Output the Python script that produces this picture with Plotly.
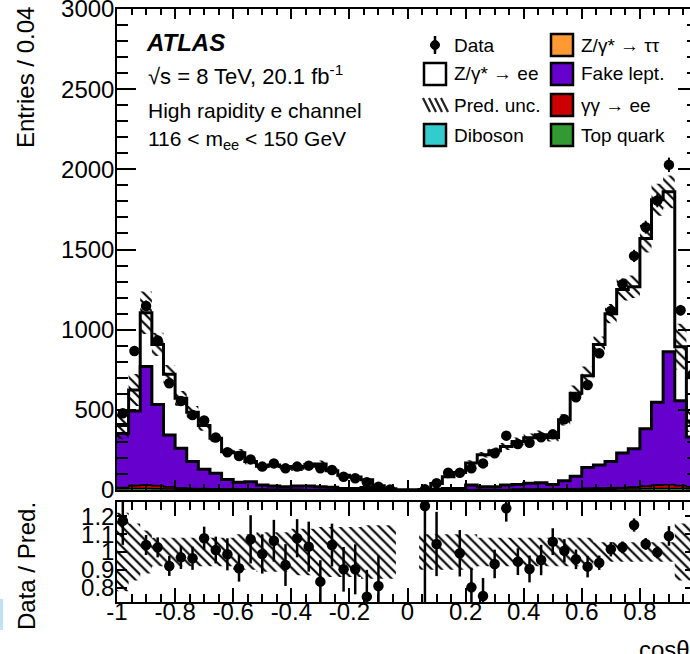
import numpy as np
import plotly.graph_objects as go

# ---------------- data ----------------
bin_edges = np.round(np.linspace(-1.0, 1.0, 51), 2)

data_counts = [479, 867, 1148, 932, 666, 555, 468, 433, 327, 235,
               212, 191, 146, 166, 135, 146, 152, 135, 125, 83,
               73, 48, 21, 3, 0, 0, 4, 42, 108, 108,
               135, 166, 229, 339, 287, 295, 329, 347, 441, 578,
               655, 853, 1117, 1284, 1460, 1639, 1806, 2028, 1121, 718]

top_quark = [8, 9, 9, 8, 6, 5, 4, 4, 3, 3,
             3, 2, 2, 2, 2, 2, 1, 1, 1, 1,
             1, 1, 0, 0, 0, 0, 0, 0, 0, 1,
             1, 1, 1, 1, 2, 2, 2, 2, 3, 3,
             4, 4, 5, 6, 7, 8, 9, 10, 9, 8]

gamgam_ee = [6, 18, 20, 18, 12, 6, 4, 3, 3, 2,
             2, 2, 2, 1, 1, 1, 1, 1, 1, 1,
             1, 0, 0, 0, 0, 0, 0, 0, 1, 1,
             1, 1, 1, 1, 2, 2, 2, 3, 3, 4,
             5, 6, 7, 8, 10, 14, 20, 22, 18, 10]

diboson = [1] * 22 + [0] * 6 + [1] * 22

z_tautau = [2] * 11 + [1] * 11 + [0] * 6 + [1] * 11 + [2] * 11

fake_lept = [335, 463, 738, 504, 322, 246, 166, 120, 95, 57,
             40, 46, 25, 20, 16, 20, 21, 17, 13, 5,
             6, 12, 4, 2, 0, 0, 2, 4, 7, 6,
             27, 17, 17, 27, 29, 36, 39, 28, 50, 75,
             128, 143, 162, 214, 237, 357, 516, 828, 527, 309]

z_ee = [56, 131, 335, 375, 379, 312, 308, 272, 219, 173,
        185, 126, 117, 131, 125, 111, 123, 141, 103, 83,
        71, 49, 22, 6, 0, 0, 1, 36, 72, 99,
        137, 199, 224, 241, 268, 284, 299, 293, 380, 518,
        573, 751, 923, 1020, 1011, 1186, 1262, 997, 337, 100]

pred_rel_unc = [0.22, 0.16, 0.12, 0.08, 0.08, 0.08, 0.08, 0.08, 0.08, 0.08,
                0.10, 0.10, 0.11, 0.11, 0.11, 0.13, 0.13, 0.14, 0.14, 0.14,
                0.14, 0.15, 0.15, 0.15, 0.0, 0.0, 0.10, 0.10, 0.10, 0.10,
                0.10, 0.08, 0.08, 0.08, 0.08, 0.08, 0.08, 0.08, 0.08, 0.08,
                0.08, 0.055, 0.055, 0.055, 0.055, 0.055, 0.055, 0.055, 0.16, 0.16]

ratio_vals = [1.175, None, 1.039, 1.026, 0.922, 0.970, 0.965, 1.077, 1.011, 0.987,
              0.909, 1.071, 0.989, 1.063, 0.927, 1.077, 1.030, 0.834, 1.039, 0.903,
              0.903, 0.750, 0.810, None, None, None, 1.258, 1.045, None, 0.993,
              0.802, 0.754, 0.933, 1.245, 0.946, 0.905, 0.955, 1.058, 1.007, 0.959,
              0.918, 0.940, 1.015, 1.026, 1.151, 1.045, 0.998, 1.090, None, None]

ratio_errs = [0.135, 0, 0.056, 0.056, 0.056, 0.065, 0.065, 0.065, 0.075, 0.09,
              0.075, 0.135, 0.11, 0.117, 0.117, 0.107, 0.14, 0.12, 0.12, 0.125,
              0.14, 0.15, 0.17, 0, 0, 0, 0.6, 0.18, 0, 0.13,
              0.11, 0.10, 0.08, 0.075, 0.075, 0.075, 0.085, 0.075, 0.065, 0.055,
              0.06, 0.04, 0.04, 0.033, 0.037, 0.033, 0.033, 0.055, 0, 0]

x_tick_vals = [-1, -0.8, -0.6, -0.4, -0.2, 0, 0.2, 0.4, 0.6, 0.8]
x_tick_text = ["-1", "-0.8", "-0.6", "-0.4", "-0.2", "0", "0.2", "0.4", "0.6", "0.8"]
r_tick_vals = [0.8, 0.9, 1.0, 1.1, 1.2]
r_tick_text = ["0.8", "0.9", "1", "1.1", "1.2"]

# ---------------- geometry ----------------
W, H = 690, 654
ML, MR, MT, MB = 117, 0, 9, 52
PW, PH = W - ML - MR, H - MT - MB
PX_PER_UNIT = 290.5  # horizontal scale of the reference (x = 1 lies beyond the crop)


def px(x):
    return (x - ML) / PW


def py(y):
    return (H - MB - y) / PH


FONT = "Liberation Sans, Arial, Helvetica, sans-serif"

centers = bin_edges[:-1] + 0.02
d = np.array(data_counts, dtype=float)
comp = [np.array(a, dtype=float) for a in (top_quark, gamgam_ee, diboson, z_tautau, fake_lept, z_ee)]
cum = np.cumsum(np.vstack(comp), axis=0)
total = cum[-1]
unc = np.array(pred_rel_unc)


def stepy(v):
    return np.append(v, v[-1])


def band(lo, hi):
    xs, ys = [], []
    for i in range(len(lo)):
        xs += [bin_edges[i], bin_edges[i + 1]]
        ys += [hi[i], hi[i]]
    for i in reversed(range(len(lo))):
        xs += [bin_edges[i + 1], bin_edges[i]]
        ys += [lo[i], lo[i]]
    return xs, ys


fig = go.Figure()

# stacked histograms (drawn from the top level down)
styles = [  # (cum index, fill colour, line width)
    (5, "white", 3),
    (4, "#6600cc", 3),
    (3, "#ff9933", 1),
    (2, "#33cccc", 1),
    (1, "#cc0000", 1.5),
    (0, "#339933", 1.5),
]
for idx, col, lw in styles:
    fig.add_trace(go.Scatter(x=bin_edges, y=stepy(cum[idx]), mode="lines",
                             line=dict(shape="hv", color="black", width=lw),
                             fill="tozeroy", fillcolor=col, hoverinfo="skip",
                             xaxis="x", yaxis="y"))

hatch = dict(shape="\\", fgcolor="#000000", bgcolor="rgba(255,255,255,0)", size=7,
             solidity=0.3, fillmode="replace", fgopacity=1)

bx, by = band(total * (1 - unc), total * (1 + unc))
fig.add_trace(go.Scatter(x=bx, y=by, mode="none", fill="toself",
                         fillcolor="rgba(255,255,255,0)", fillpattern=hatch,
                         hoverinfo="skip", xaxis="x", yaxis="y"))

mask = d > 0
fig.add_trace(go.Scatter(x=centers[mask], y=d[mask], mode="markers",
                         marker=dict(color="black", size=10.5),
                         error_y=dict(type="data", array=np.sqrt(d[mask]), color="black",
                                      thickness=2, width=0),
                         xaxis="x", yaxis="y", hoverinfo="skip"))

# ratio panel
has_mc = total > 0
rb_lo = np.where(has_mc, 1 - unc, 1.0)
rb_hi = np.where(has_mc, 1 + unc, 1.0)
rx, ry = band(rb_lo, rb_hi)
fig.add_trace(go.Scatter(x=rx, y=ry, mode="none", fill="toself",
                         fillcolor="rgba(255,255,255,0)", fillpattern=hatch,
                         hoverinfo="skip", xaxis="x2", yaxis="y2"))

fig.add_trace(go.Scatter(x=centers, y=ratio_vals, mode="markers",
                         marker=dict(color="black", size=10.5),
                         error_y=dict(type="data", array=ratio_errs, color="black",
                                      thickness=2.5, width=0),
                         xaxis="x2", yaxis="y2", hoverinfo="skip"))

# dummy traces so that the right-hand tick axes are drawn
fig.add_trace(go.Scatter(x=[], y=[], xaxis="x", yaxis="y3", hoverinfo="skip"))
fig.add_trace(go.Scatter(x=[], y=[], xaxis="x2", yaxis="y4", hoverinfo="skip"))

main_bottom = py(490)
ratio_top = py(502)
xr = [-1.0, -1.0 + PW / PX_PER_UNIT]

axis_common = dict(showgrid=False, zeroline=False, showline=True, linecolor="black",
                   linewidth=1.5, ticks="inside", tickcolor="black", tickwidth=1.5,
                   ticklabeloverflow="allow", automargin=False,
                   tickfont=dict(family=FONT, size=24, color="black"))

fig.update_layout(
    width=W, height=H, margin=dict(l=ML, r=MR, t=MT, b=MB, pad=0, autoexpand=False),
    paper_bgcolor="white", plot_bgcolor="white", showlegend=False,
    font=dict(family=FONT, color="black"),
    xaxis=dict(axis_common, domain=[0, 1], range=xr, anchor="y", mirror="ticks",
               tickvals=x_tick_vals, showticklabels=False, ticklen=10,
               minor=dict(ticks="inside", dtick=0.05, tick0=0, ticklen=6,
                          tickcolor="black", tickwidth=1.5)),
    yaxis=dict(axis_common, domain=[main_bottom, 1], range=[0, 3000], anchor="x",
               dtick=500, ticklen=19, ticklabelstandoff=-4,
               minor=dict(ticks="inside", dtick=100, ticklen=11,
                          tickcolor="black", tickwidth=1.5)),
    yaxis3=dict(overlaying="y", side="right", anchor="x", range=[0, 3000],
                showgrid=False, zeroline=False, showline=False, showticklabels=False,
                automargin=False,
                ticks="inside", dtick=500, ticklen=12, tickcolor="black", tickwidth=1.5,
                minor=dict(ticks="inside", dtick=100, ticklen=3,
                           tickcolor="black", tickwidth=1.5)),
    xaxis2=dict(axis_common, domain=[0, 1], range=xr, anchor="y2", matches="x",
                mirror="ticks", tickvals=x_tick_vals, ticktext=x_tick_text, ticklen=14,
                ticklabelstandoff=-13,
                minor=dict(ticks="inside", dtick=0.05, tick0=0, ticklen=8,
                           tickcolor="black", tickwidth=1.5)),
    yaxis2=dict(axis_common, domain=[0, ratio_top], range=[0.72, 1.28], anchor="x2",
                tickvals=r_tick_vals, ticktext=r_tick_text, ticklen=10,
                ticklabelstandoff=-4),
    yaxis4=dict(overlaying="y2", side="right", anchor="x2", range=[0.72, 1.28],
                showgrid=False, zeroline=False, showline=False, showticklabels=False,
                automargin=False,
                ticks="inside", tickvals=r_tick_vals, ticklen=5, tickcolor="black",
                tickwidth=1.5),
)

ann = []
shapes = []


def text(x, y, s, size, xanchor="left", yanchor="middle", angle=0):
    ann.append(dict(x=px(x), y=py(y), xref="paper", yref="paper", text=s, showarrow=False,
                    xanchor=xanchor, yanchor=yanchor, textangle=angle,
                    font=dict(family=FONT, size=size, color="black")))


# axis titles
text(26, 78, "Entries / 0.04", 24, xanchor="center", yanchor="middle", angle=-90)
text(26, 566, "Data / Pred.", 24, xanchor="center", yanchor="middle", angle=-90)
text(637, 634, "cosθ*", 24, xanchor="left", yanchor="top")

# labels
text(144, 42, "<b><i>ATLAS</i></b>", 24)
text(146, 75, "√s = 8 TeV, 20.1 fb<sup>-1</sup>", 22)
text(146, 110, "High rapidity e channel", 21)
text(146, 140, "116 &lt; m<sub>ee</sub> &lt; 150 GeV", 21)

# legend
rows = [45, 74, 105, 135]
text(452, rows[0], "Data", 19)
text(452, rows[1], "Z/γ* → ee", 19)
text(452, rows[2], "Pred. unc.", 19)
text(452, rows[3], "Diboson", 19)
text(579, rows[0], "Z/γ* → ττ", 19)
text(579, rows[1], "Fake lept.", 19)
text(579, rows[2], "γγ → ee", 19)
text(579, rows[3], "Top quark", 19)


def box(x0, yc, color):
    shapes.append(dict(type="rect", xref="paper", yref="paper",
                       x0=px(x0), x1=px(x0 + 22), y0=py(yc + 11), y1=py(yc - 11),
                       fillcolor=color, line=dict(color="black", width=2.5)))


box(424, rows[1], "white")
box(424, rows[3], "#33cccc")
box(551, rows[0], "#ff9933")
box(551, rows[1], "#6600cc")
box(551, rows[2], "#cc0000")
box(551, rows[3], "#339933")

# data legend marker
shapes.append(dict(type="line", xref="paper", yref="paper", x0=px(435), x1=px(435),
                   y0=py(36), y1=py(54), line=dict(color="black", width=2.5)))
shapes.append(dict(type="circle", xref="paper", yref="paper", x0=px(430.5), x1=px(439.5),
                   y0=py(49.5), y1=py(40.5), fillcolor="black", line=dict(color="black", width=1)))
# pred. unc. legend hatch
for k in range(4):
    x0 = 423 + 6 * k
    shapes.append(dict(type="line", xref="paper", yref="paper", x0=px(x0), x1=px(x0 + 7),
                       y0=py(98), y1=py(112), line=dict(color="#222222", width=2.2)))

# light blue artefact on the left edge
shapes.append(dict(type="rect", xref="paper", yref="paper", x0=px(0), x1=px(3),
                   y0=py(630), y1=py(599), fillcolor="#bfe3f5", line=dict(width=0)))

fig.update_layout(annotations=ann, shapes=shapes)
fig.write_html("out.html")
